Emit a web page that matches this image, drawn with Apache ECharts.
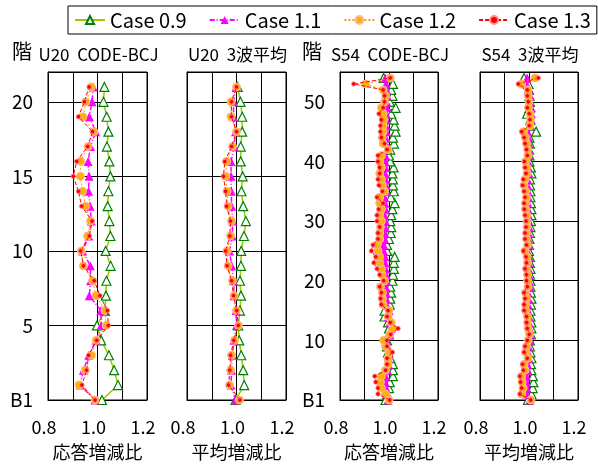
<!DOCTYPE html>
<html>
<head>
<meta charset="utf-8">
<script src="https://cdn.jsdelivr.net/npm/echarts@6/dist/echarts.min.js"></script>
<style>
  html, body { margin: 0; padding: 0; background: #fff; }
  #chart { width: 598px; height: 466px; }
</style>
</head>
<body>
<div id="chart"></div>
<script>
// floors: 0 = B1
const u20Floors = [0, 1, 2, 3, 4, 5, 6, 7, 8, 9, 10, 11, 12, 13, 14, 15, 16, 17, 18, 19, 20, 21];
const s54Floors = [0, 1, 2, 3, 4, 5, 6, 7, 8, 9, 10, 11, 12, 13, 14, 15, 16, 17, 18, 19, 20,
  21, 22, 23, 24, 25, 26, 27, 28, 29, 30, 31, 32, 33, 34, 35, 36, 37, 38, 39, 40,
  41, 42, 43, 44, 45, 46, 47, 48, 49, 50, 51, 52, 53, 54];

const caseNames = ['Case 0.9', 'Case 1.1', 'Case 1.2', 'Case 1.3'];
const xTickLabels = ['0.8', '1.0', '1.2'];
const panelTitles = ['U20  CODE-BCJ', 'U20  3波平均', 'S54  CODE-BCJ', 'S54  3波平均'];
const xNames = ['応答増減比', '平均増減比', '応答増減比', '平均増減比'];

// U20 CODE-BCJ
const u20Code09 = [1.018, 1.083, 1.067, 1.046, 1.015, 0.998, 1.030, 1.034, 1.036, 1.053, 1.033,
  1.052, 1.048, 1.041, 1.044, 1.052, 1.048, 1.038, 1.044, 1.037, 1.024, 1.028];
const u20Code11 = [0.990, 0.930, 0.943, 0.965, 0.995, 1.015, 1.014, 0.967, 0.972, 0.971, 0.940,
  0.965, 0.975, 0.970, 0.964, 0.966, 0.962, 0.972, 0.993, 0.967, 0.978, 0.983];
const u20Code12 = [0.990, 0.925, 0.950, 0.976, 0.995, 1.035, 1.030, 0.994, 0.980, 0.943, 0.935,
  0.960, 0.972, 0.952, 0.940, 0.931, 0.932, 0.962, 0.985, 0.941, 0.953, 0.975];
const u20Code13 = [0.990, 0.937, 0.956, 0.964, 0.997, 1.044, 1.040, 1.010, 0.987, 0.943, 0.932,
  0.967, 0.978, 0.936, 0.923, 0.902, 0.916, 0.960, 0.980, 0.923, 0.947, 0.966];

// U20 3波平均
const u20Avg09 = [0.996, 1.031, 1.027, 1.019, 1.011, 1.007, 1.014, 1.018, 1.014, 1.018, 1.019,
  1.030, 1.038, 1.027, 1.020, 1.025, 1.017, 1.017, 1.023, 1.023, 1.016, 1.005];
const u20Avg11 = [0.996, 0.978, 0.980, 0.983, 0.990, 1.000, 0.998, 0.990, 0.988, 0.980, 0.972,
  0.983, 0.985, 0.980, 0.979, 0.978, 0.978, 0.990, 0.996, 0.988, 0.988, 0.998];
const u20Avg12 = [1.012, 0.972, 0.976, 0.980, 0.992, 1.008, 1.000, 0.990, 0.984, 0.966, 0.962,
  0.976, 0.980, 0.966, 0.962, 0.957, 0.960, 0.984, 1.000, 0.978, 0.978, 1.000];
const u20Avg13 = [1.014, 0.968, 0.973, 0.976, 0.989, 1.007, 1.001, 0.988, 0.980, 0.962, 0.956,
  0.973, 0.976, 0.960, 0.956, 0.947, 0.953, 0.980, 1.000, 0.980, 0.980, 1.000];

// S54 CODE-BCJ
const s54Code09 = [0.986, 0.992, 1.000, 1.003, 1.016, 1.016, 1.016, 1.005, 0.996, 0.992, 0.992,
  1.000, 1.000, 0.996, 0.982, 0.982, 1.003, 1.005, 1.009, 1.005, 1.014,
  1.016, 1.020, 1.020, 1.023, 0.992, 0.992, 1.000, 1.007, 1.009, 1.005,
  1.009, 1.014, 1.023, 1.007, 1.020, 1.016, 1.016, 1.014, 1.019, 1.005,
  1.000, 1.005, 1.020, 1.016, 1.027, 1.023, 1.019, 1.009, 1.027, 1.003,
  1.014, 1.009, 1.016, 0.978];
const s54Code11 = [0.996, 0.990, 0.988, 0.984, 0.986, 0.994, 0.998, 0.998, 1.000, 0.994, 0.990,
  1.002, 1.008, 1.004, 0.998, 1.000, 0.990, 0.988, 0.988, 0.986, 0.990,
  0.988, 0.986, 0.984, 0.984, 0.978, 0.978, 0.982, 0.983, 0.984, 0.985,
  0.982, 0.986, 0.984, 0.982, 0.990, 0.988, 0.986, 0.984, 0.986, 0.984,
  0.985, 0.995, 0.988, 0.986, 0.990, 0.988, 0.990, 0.988, 0.992, 0.990,
  0.992, 0.990, 0.988, 0.985];
const s54Code12 = [1.000, 0.986, 0.969, 0.965, 0.969, 0.986, 0.996, 0.996, 1.000, 0.986, 0.978,
  1.003, 1.014, 1.009, 0.996, 1.000, 0.976, 0.973, 0.973, 0.965, 0.982,
  0.972, 0.969, 0.962, 0.962, 0.955, 0.951, 0.962, 0.962, 0.965, 0.969,
  0.962, 0.969, 0.962, 0.962, 0.982, 0.973, 0.969, 0.962, 0.969, 0.962,
  0.969, 0.996, 0.976, 0.972, 0.976, 0.976, 0.978, 0.976, 0.969, 0.982,
  0.986, 0.976, 0.905, 1.005];
const s54Code13 = [1.003, 0.955, 0.955, 0.946, 0.942, 0.986, 0.992, 0.992, 1.014, 0.992, 0.992,
  1.007, 1.037, 1.005, 0.992, 0.996, 0.969, 0.966, 0.969, 0.962, 0.978,
  0.962, 0.951, 0.938, 0.946, 0.928, 0.935, 0.955, 0.955, 0.962, 0.951,
  0.951, 0.958, 0.976, 0.951, 0.973, 0.959, 0.955, 0.962, 0.962, 0.955,
  0.955, 0.992, 0.982, 0.969, 0.965, 0.965, 0.969, 0.959, 0.976, 0.982,
  0.982, 0.976, 0.856, 1.005];

// S54 3波平均
const s54Avg09 = [0.996, 1.010, 1.015, 1.018, 1.016, 1.010, 1.008, 1.010, 1.006, 1.004, 1.004,
  1.008, 1.010, 1.010, 1.006, 1.006, 1.008, 1.010, 1.008, 1.006, 1.006,
  1.004, 1.006, 1.004, 1.004, 1.000, 1.000, 1.002, 1.004, 1.006, 1.008,
  1.010, 1.010, 1.008, 1.006, 1.006, 1.004, 1.004, 1.010, 1.008, 1.002,
  1.002, 1.000, 1.004, 1.002, 1.029, 1.004, 1.006, 0.992, 1.002, 1.004,
  1.002, 1.000, 0.998, 0.980];
const s54Avg11 = [1.004, 0.990, 0.992, 0.990, 0.990, 0.996, 0.994, 1.000, 0.996, 0.998, 1.002,
  1.006, 1.002, 1.000, 1.000, 0.996, 0.996, 0.998, 0.996, 1.002, 1.000,
  1.000, 0.998, 1.000, 1.000, 0.994, 1.000, 0.998, 0.998, 1.000, 1.000,
  0.998, 0.996, 0.996, 0.998, 0.996, 0.994, 0.994, 1.000, 0.998, 0.996,
  1.000, 1.000, 1.000, 0.998, 0.994, 1.006, 1.008, 1.010, 1.010, 1.006,
  1.004, 1.002, 0.990, 0.992];
const s54Avg12 = [1.008, 0.970, 0.976, 0.972, 0.970, 0.984, 0.980, 0.996, 0.986, 0.990, 0.996,
  1.002, 0.996, 0.994, 0.994, 0.986, 0.986, 0.990, 0.986, 0.996, 0.994,
  0.994, 0.990, 0.994, 0.992, 0.984, 0.994, 0.990, 0.990, 0.992, 0.992,
  0.990, 0.986, 0.986, 0.990, 0.986, 0.980, 0.984, 0.992, 0.990, 0.986,
  0.996, 0.994, 0.990, 0.986, 0.978, 1.004, 1.006, 1.004, 0.998, 1.000,
  0.997, 0.996, 0.970, 1.025];
const s54Avg13 = [1.007, 0.963, 0.970, 0.966, 0.963, 0.977, 0.974, 0.993, 0.980, 0.984, 0.993,
  1.001, 0.993, 0.990, 0.990, 0.980, 0.980, 0.984, 0.980, 0.993, 0.990,
  0.990, 0.984, 0.990, 0.988, 0.977, 0.990, 0.984, 0.984, 0.988, 0.988,
  0.984, 0.981, 0.980, 0.984, 0.980, 0.974, 0.977, 0.988, 0.984, 0.981,
  0.993, 0.990, 0.984, 0.980, 0.970, 1.001, 1.004, 1.001, 0.993, 0.997,
  0.993, 0.993, 0.956, 1.038];

const FONT = "'Noto Sans CJK JP', 'Noto Sans', sans-serif";

const caseStyles = [
  { line: { color: '#99cc00', width: 1.5, type: 'solid' }, symbol: 'triangle', size: 9,
    item: { color: '#ffffff', borderColor: '#008000', borderWidth: 1.2 } },
  { line: { color: '#ff00ff', width: 1.5, type: [5, 2, 1, 2] }, symbol: 'triangle', size: 9,
    item: { color: '#ff00ff', borderColor: '#ff00ff', borderWidth: 0 } },
  { line: { color: '#ff9900', width: 1, type: [2, 2] }, symbol: 'circle', size: 8,
    item: { color: '#ffb000', borderColor: '#ffb8a0', borderWidth: 1 } },
  { line: { color: '#ff0000', width: 1, type: [4, 2] }, symbol: 'circle', size: 4.5,
    item: { color: '#ff0000', borderColor: '#ff9090', borderWidth: 0.8 } }
];

const panels = [
  { floors: u20Floors, max: 22, step: 5, sets: [u20Code09, u20Code11, u20Code12, u20Code13] },
  { floors: u20Floors, max: 22, step: 5, sets: [u20Avg09, u20Avg11, u20Avg12, u20Avg13] },
  { floors: s54Floors, max: 55, step: 10, sets: [s54Code09, s54Code11, s54Code12, s54Code13] },
  { floors: s54Floors, max: 55, step: 10, sets: [s54Avg09, s54Avg11, s54Avg12, s54Avg13] }
];

const gridLeft = [48, 187, 340, 480];
const gridW = [99, 99, 98, 98];

const grids = [], xAxes = [], yAxes = [], series = [];
panels.forEach((p, i) => {
  grids.push({ left: gridLeft[i], top: 72, width: gridW[i], height: 328,
    outerBoundsMode: 'none', containLabel: false,
    show: true, borderColor: '#000', borderWidth: 1, backgroundColor: 'transparent' });
  xAxes.push({
    type: 'value', gridIndex: i, min: 0.8, max: 1.2, interval: 0.1,
    name: xNames[i], nameLocation: 'middle', nameGap: 43,
    nameTextStyle: { color: '#000', fontSize: 18, fontFamily: FONT },
    axisLine: { show: true, lineStyle: { color: '#000' } },
    axisTick: { show: false },
    axisLabel: {
      color: '#000', fontSize: 18, fontFamily: FONT, margin: 18, padding: [0, 8, 0, 0],
      showMinLabel: true, showMaxLabel: true,
      formatter: v => { const s = v.toFixed(1); return xTickLabels.indexOf(s) >= 0 ? s : ''; }
    },
    splitLine: { show: true, lineStyle: { color: '#000', width: 1 } }
  });
  const showY = (i === 0 || i === 2);
  yAxes.push({
    type: 'value', gridIndex: i, min: 0, max: p.max, interval: p.step,
    axisLine: { show: true, lineStyle: { color: '#000' } },
    axisTick: { show: false },
    axisLabel: {
      show: showY, color: '#000', fontSize: 19, fontFamily: FONT, margin: 15,
      formatter: v => v === 0 ? 'B1' : (v === p.max ? '' : String(v))
    },
    splitLine: { show: true, lineStyle: { color: '#000', width: 1 } }
  });
  p.sets.forEach((vals, k) => {
    const st = caseStyles[k];
    series.push({
      name: caseNames[k], type: 'line', xAxisIndex: i, yAxisIndex: i,
      data: p.floors.map((f, j) => [vals[j], f]),
      symbol: st.symbol, symbolSize: st.size, showAllSymbol: true,
      lineStyle: st.line, itemStyle: st.item,
      animation: false, z: 2 + k
    });
  });
});

const chart = echarts.init(document.getElementById('chart'), null, { renderer: 'canvas' });
chart.setOption({
  backgroundColor: '#fff',
  animation: false,
  legend: {
    data: caseNames, left: 68, top: 6, width: 520,
    itemWidth: 30, itemHeight: 10, itemGap: 22,
    padding: [4, 6, 4, 6],
    borderColor: '#000', borderWidth: 1,
    textStyle: { color: '#000', fontSize: 20, fontFamily: FONT, padding: [0, 0, 0, 0] }
  },
  grid: grids,
  xAxis: xAxes,
  yAxis: yAxes,
  series: series,
  graphic: [
    { type: 'text', x: 22, y: 51, style: { text: '階', fontSize: 20, fontFamily: FONT, fill: '#000', align: 'center', verticalAlign: 'middle' } },
    { type: 'text', x: 312, y: 51, style: { text: '階', fontSize: 20, fontFamily: FONT, fill: '#000', align: 'center', verticalAlign: 'middle' } },
    ...panelTitles.map((t, i) => ({
      type: 'text', x: gridLeft[i] + gridW[i] / 2 + 1, y: 55,
      style: { text: t, fontSize: 17, fontFamily: FONT, fill: '#000', align: 'center', verticalAlign: 'middle' }
    }))
  ]
});
</script>
</body>
</html>
